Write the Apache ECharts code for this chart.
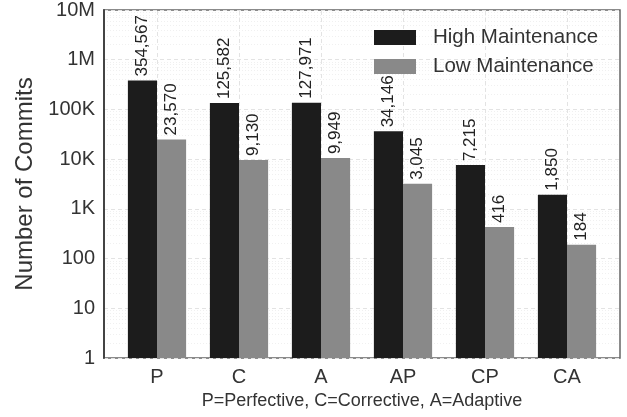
<!DOCTYPE html>
<html>
<head>
<meta charset="utf-8">
<script src="https://cdn.jsdelivr.net/npm/echarts@6/dist/echarts.min.js"></script>
<style>
html,body{margin:0;padding:0;background:#fff;}
#chart{width:627px;height:417px;}
</style>
</head>
<body>
<div id="chart"></div>
<script>
const categories = ['P', 'C', 'A', 'AP', 'CP', 'CA'];
const highMaintenance = [354567, 125582, 127971, 34146, 7215, 1850];
const lowMaintenance = [23570, 9130, 9949, 3045, 416, 184];
const seriesNames = ['High Maintenance', 'Low Maintenance'];
const yTickLabels = ['1', '10', '100', '1K', '10K', '100K', '1M', '10M'];
const xAxisTitle = 'P=Perfective, C=Corrective, A=Adaptive';
const yAxisTitle = 'Number of Commits';

const FONT = 'Liberation Sans, Arial, sans-serif';
const TXT = '#333333';

// minor log gridline positions (2..9 within each decade)
const minorLines = [];
for (let d = 0; d < 7; d++) {
  for (let k = 2; k <= 9; k++) minorLines.push({ yAxis: k * Math.pow(10, d) });
}

const chart = echarts.init(document.getElementById('chart'), null, { renderer: 'canvas' });
const fmt = v => v.toLocaleString('en-US');

const barLabel = {
  show: true, position: 'top', rotate: 90, align: 'left', verticalAlign: 'middle',
  distance: 4, fontFamily: FONT, fontSize: 17, color: '#222',
  formatter: p => fmt(p.value)
};

chart.setOption({
  animation: false,
  textStyle: { fontFamily: FONT },
  grid: [
    { left: 104, right: 7, top: 8, bottom: 59, show: true, borderColor: '#666', borderWidth: 1.5, backgroundColor: 'transparent' },
    { left: 116, right: 19, top: 8, bottom: 59 }
  ],
  legend: {
    orient: 'vertical', left: 374, top: 27, padding: 0, itemWidth: 42, itemHeight: 15, itemGap: 8,
    icon: 'rect',
    textStyle: { fontFamily: FONT, fontSize: 20.5, color: TXT, padding: [0, 0, 0, 12] },
    data: seriesNames
  },
  xAxis: [
    { type: 'value', gridIndex: 0, min: 0, max: 1, show: false },
    {
      type: 'category', gridIndex: 1, data: categories,
      axisLine: { show: false }, axisTick: { show: false },
      axisLabel: { fontFamily: FONT, fontSize: 20, color: TXT, margin: 9 },
      name: xAxisTitle, nameLocation: 'middle', nameGap: 31,
      nameTextStyle: { fontFamily: FONT, fontSize: 18, color: TXT }
    }
  ],
  yAxis: [
    {
      type: 'log', logBase: 10, gridIndex: 0, min: 1, max: 1e7,
      axisLine: { show: true, lineStyle: { color: '#444', width: 2 } },
      axisTick: { show: false },
      axisLabel: {
        fontFamily: FONT, fontSize: 20, color: TXT, margin: 9,
        formatter: v => yTickLabels[Math.round(Math.log10(v))]
      },
      splitLine: { show: true, lineStyle: { color: '#e3e3e3', type: [4, 3], width: 1 } },
      name: yAxisTitle, nameLocation: 'middle', nameGap: 66,
      nameTextStyle: { fontFamily: FONT, fontSize: 24, color: TXT }
    },
    { type: 'log', logBase: 10, gridIndex: 1, min: 1, max: 1e7, show: false, splitLine: { show: false } }
  ],
  series: [
    {
      type: 'scatter', xAxisIndex: 0, yAxisIndex: 0, data: [[0.5, 1]], symbolSize: 0, silent: true, z: 0,
      markLine: {
        silent: true, symbol: 'none', label: { show: false }, z: 0,
        lineStyle: { color: '#f0f0f0', type: [1, 2], width: 1 },
        data: minorLines
      }
    },
    {
      type: 'line', xAxisIndex: 1, yAxisIndex: 1, data: [], silent: true, z: 0, showSymbol: false,
      markLine: {
        silent: true, symbol: 'none', label: { show: false }, z: 0,
        lineStyle: { color: '#e3e3e3', type: [4, 3], width: 1 },
        data: categories.map(c => ({ xAxis: c }))
      }
    },
    {
      name: seriesNames[0], type: 'bar', xAxisIndex: 1, yAxisIndex: 1, data: highMaintenance,
      itemStyle: { color: '#1c1c1c' }, barGap: '0%', barCategoryGap: '29%', label: barLabel, z: 3
    },
    {
      name: seriesNames[1], type: 'bar', xAxisIndex: 1, yAxisIndex: 1, data: lowMaintenance,
      itemStyle: { color: '#898989' }, barGap: '0%', barCategoryGap: '29%', label: barLabel, z: 3
    }
  ]
});
</script>
</body>
</html>
